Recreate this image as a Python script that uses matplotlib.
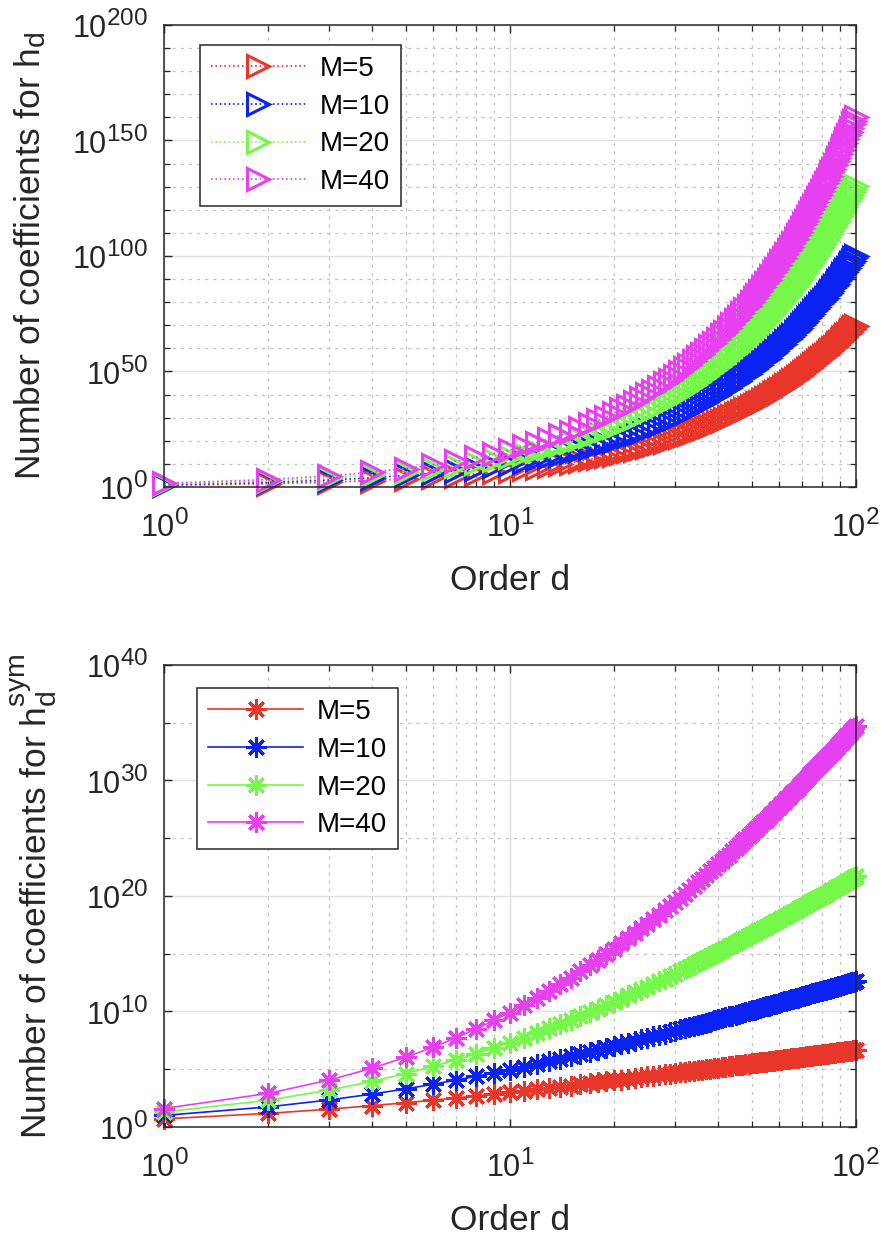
import numpy as np
import matplotlib
matplotlib.use('Agg')
import matplotlib.pyplot as plt
import matplotlib._mathtext as mathtext_internal
from matplotlib.ticker import FixedLocator, FuncFormatter, NullFormatter

plt.rcParams['font.family'] = ['Liberation Sans', 'DejaVu Sans']
plt.rcParams['mathtext.fontset'] = 'custom'
plt.rcParams['mathtext.rm'] = 'Liberation Sans'
plt.rcParams['mathtext.it'] = 'Liberation Sans'
plt.rcParams['mathtext.bf'] = 'Liberation Sans'
# MATLAB draws exponents larger than matplotlib's default 0.7
mathtext_internal.SHRINK_FACTOR = 0.8

# order d (x axis)
orders = list(range(1, 101))
labels = ['M=5', 'M=10', 'M=20', 'M=40']
colors = ['#e8362a', '#0a22f2', '#76f84a', '#e640f0']

# log10 of the number of coefficients for h_d
hd_m5 = [0.7, 1.4, 2.1, 2.8, 3.5, 4.2, 4.9, 5.6, 6.3, 7.0, 7.7, 8.4, 9.1, 9.8, 10.5, 11.2, 11.9, 12.6, 13.3, 14.0,
         14.7, 15.4, 16.1, 16.8, 17.5, 18.2, 18.9, 19.6, 20.3, 21.0, 21.7, 22.4, 23.1, 23.8, 24.5, 25.2, 25.9, 26.6, 27.3, 28.0,
         28.7, 29.4, 30.1, 30.8, 31.5, 32.2, 32.9, 33.6, 34.2, 34.9, 35.6, 36.3, 37.0, 37.7, 38.4, 39.1, 39.8, 40.5, 41.2, 41.9,
         42.6, 43.3, 44.0, 44.7, 45.4, 46.1, 46.8, 47.5, 48.2, 48.9, 49.6, 50.3, 51.0, 51.7, 52.4, 53.1, 53.8, 54.5, 55.2, 55.9,
         56.6, 57.3, 58.0, 58.7, 59.4, 60.1, 60.8, 61.5, 62.2, 62.9, 63.6, 64.3, 65.0, 65.7, 66.4, 67.1, 67.8, 68.5, 69.2, 69.9]
hd_m10 = [1, 2, 3, 4, 5, 6, 7, 8, 9, 10, 11, 12, 13, 14, 15, 16, 17, 18, 19, 20,
          21, 22, 23, 24, 25, 26, 27, 28, 29, 30, 31, 32, 33, 34, 35, 36, 37, 38, 39, 40,
          41, 42, 43, 44, 45, 46, 47, 48, 49, 50, 51, 52, 53, 54, 55, 56, 57, 58, 59, 60,
          61, 62, 63, 64, 65, 66, 67, 68, 69, 70, 71, 72, 73, 74, 75, 76, 77, 78, 79, 80,
          81, 82, 83, 84, 85, 86, 87, 88, 89, 90, 91, 92, 93, 94, 95, 96, 97, 98, 99, 100]
hd_m20 = [1.3, 2.6, 3.9, 5.2, 6.5, 7.8, 9.1, 10.4, 11.7, 13.0, 14.3, 15.6, 16.9, 18.2, 19.5, 20.8, 22.1, 23.4, 24.7, 26.0,
          27.3, 28.6, 29.9, 31.2, 32.5, 33.8, 35.1, 36.4, 37.7, 39.0, 40.3, 41.6, 42.9, 44.2, 45.5, 46.8, 48.1, 49.4, 50.7, 52.0,
          53.3, 54.6, 55.9, 57.2, 58.5, 59.8, 61.1, 62.4, 63.7, 65.1, 66.4, 67.7, 69.0, 70.3, 71.6, 72.9, 74.2, 75.5, 76.8, 78.1,
          79.4, 80.7, 82.0, 83.3, 84.6, 85.9, 87.2, 88.5, 89.8, 91.1, 92.4, 93.7, 95.0, 96.3, 97.6, 98.9, 100.2, 101.5, 102.8, 104.1,
          105.4, 106.7, 108.0, 109.3, 110.6, 111.9, 113.2, 114.5, 115.8, 117.1, 118.4, 119.7, 121.0, 122.3, 123.6, 124.9, 126.2, 127.5, 128.8, 130.1]
hd_m40 = [1.6, 3.2, 4.8, 6.4, 8.0, 9.6, 11.2, 12.8, 14.4, 16.0, 17.6, 19.2, 20.8, 22.4, 24.0, 25.6, 27.2, 28.8, 30.4, 32.0,
          33.6, 35.2, 36.8, 38.4, 40.1, 41.7, 43.3, 44.9, 46.5, 48.1, 49.7, 51.3, 52.9, 54.5, 56.1, 57.7, 59.3, 60.9, 62.5, 64.1,
          65.7, 67.3, 68.9, 70.5, 72.1, 73.7, 75.3, 76.9, 78.5, 80.1, 81.7, 83.3, 84.9, 86.5, 88.1, 89.7, 91.3, 92.9, 94.5, 96.1,
          97.7, 99.3, 100.9, 102.5, 104.1, 105.7, 107.3, 108.9, 110.5, 112.1, 113.7, 115.3, 116.9, 118.6, 120.2, 121.8, 123.4, 125.0, 126.6, 128.2,
          129.8, 131.4, 133.0, 134.6, 136.2, 137.8, 139.4, 141.0, 142.6, 144.2, 145.8, 147.4, 149.0, 150.6, 152.2, 153.8, 155.4, 157.0, 158.6, 160.2]

# log10 of the number of coefficients for h_d^sym
sym_m5 = [0.70, 1.18, 1.54, 1.85, 2.10, 2.32, 2.52, 2.69, 2.85, 3.00, 3.14, 3.26, 3.38, 3.49, 3.59, 3.69, 3.78, 3.86, 3.95, 4.03,
          4.10, 4.17, 4.24, 4.31, 4.38, 4.44, 4.50, 4.56, 4.61, 4.67, 4.72, 4.77, 4.82, 4.87, 4.92, 4.96, 5.01, 5.05, 5.09, 5.13,
          5.17, 5.21, 5.25, 5.29, 5.33, 5.36, 5.40, 5.43, 5.47, 5.50, 5.53, 5.57, 5.60, 5.63, 5.66, 5.69, 5.72, 5.75, 5.78, 5.80,
          5.83, 5.86, 5.88, 5.91, 5.94, 5.96, 5.99, 6.01, 6.04, 6.06, 6.08, 6.11, 6.13, 6.15, 6.18, 6.20, 6.22, 6.24, 6.26, 6.29,
          6.31, 6.33, 6.35, 6.37, 6.39, 6.41, 6.43, 6.45, 6.47, 6.48, 6.50, 6.52, 6.54, 6.56, 6.58, 6.59, 6.61, 6.63, 6.65, 6.66]
sym_m10 = [1.00, 1.74, 2.34, 2.85, 3.30, 3.70, 4.06, 4.39, 4.69, 4.97, 5.23, 5.47, 5.70, 5.91, 6.12, 6.31, 6.49, 6.67, 6.84, 7.00,
           7.16, 7.30, 7.45, 7.59, 7.72, 7.85, 7.97, 8.09, 8.21, 8.33, 8.44, 8.54, 8.65, 8.75, 8.85, 8.95, 9.04, 9.13, 9.22, 9.31,
           9.40, 9.48, 9.57, 9.65, 9.73, 9.80, 9.88, 9.95, 10.03, 10.10, 10.17, 10.24, 10.31, 10.37, 10.44, 10.50, 10.57, 10.63, 10.69, 10.75,
           10.81, 10.87, 10.93, 10.99, 11.04, 11.10, 11.15, 11.21, 11.26, 11.31, 11.37, 11.42, 11.47, 11.52, 11.57, 11.61, 11.66, 11.71, 11.76, 11.80,
           11.85, 11.89, 11.94, 11.98, 12.03, 12.07, 12.11, 12.16, 12.20, 12.24, 12.28, 12.32, 12.36, 12.40, 12.44, 12.48, 12.52, 12.55, 12.59, 12.63]
sym_m20 = [1.30, 2.32, 3.19, 3.95, 4.63, 5.25, 5.82, 6.35, 6.84, 7.30, 7.74, 8.15, 8.54, 8.91, 9.27, 9.61, 9.93, 10.25, 10.55, 10.84,
           11.12, 11.39, 11.65, 11.90, 12.15, 12.39, 12.62, 12.84, 13.06, 13.28, 13.48, 13.69, 13.88, 14.08, 14.26, 14.45, 14.63, 14.80, 14.98, 15.15,
           15.31, 15.47, 15.63, 15.79, 15.94, 16.09, 16.24, 16.38, 16.53, 16.67, 16.80, 16.94, 17.07, 17.20, 17.33, 17.46, 17.58, 17.71, 17.83, 17.95,
           18.06, 18.18, 18.29, 18.41, 18.52, 18.63, 18.74, 18.84, 18.95, 19.05, 19.16, 19.26, 19.36, 19.46, 19.56, 19.65, 19.75, 19.84, 19.94, 20.03,
           20.12, 20.21, 20.30, 20.39, 20.48, 20.56, 20.65, 20.74, 20.82, 20.90, 20.98, 21.07, 21.15, 21.23, 21.31, 21.38, 21.46, 21.54, 21.62, 21.69]
sym_m40 = [1.60, 2.91, 4.06, 5.09, 6.04, 6.91, 7.73, 8.50, 9.22, 9.91, 10.57, 11.20, 11.80, 12.38, 12.94, 13.47, 13.99, 14.49, 14.98, 15.45,
           15.90, 16.35, 16.78, 17.19, 17.60, 18.00, 18.39, 18.77, 19.14, 19.50, 19.85, 20.20, 20.54, 20.87, 21.20, 21.51, 21.83, 22.13, 22.43, 22.73,
           23.02, 23.31, 23.59, 23.86, 24.13, 24.40, 24.66, 24.92, 25.17, 25.43, 25.67, 25.91, 26.15, 26.39, 26.62, 26.85, 27.08, 27.30, 27.52, 27.74,
           27.95, 28.17, 28.38, 28.58, 28.79, 28.99, 29.19, 29.38, 29.58, 29.77, 29.96, 30.15, 30.34, 30.52, 30.70, 30.88, 31.06, 31.24, 31.41, 31.58,
           31.75, 31.92, 32.09, 32.25, 32.42, 32.58, 32.74, 32.90, 33.06, 33.22, 33.37, 33.52, 33.68, 33.83, 33.98, 34.12, 34.27, 34.42, 34.56, 34.70]

TXT = '#262626'


def pow_label(v, pos):
    return r'$\mathregular{10^{%d}}$' % int(round(np.log10(v)))


def style_axes(ax, major_dec, minor_dec, top_dec):
    ax.set_xscale('log')
    ax.set_yscale('log')
    ax.set_xlim(1, 100)
    ax.set_ylim(1, 10.0 ** top_dec)
    ax.xaxis.set_major_locator(FixedLocator([1, 10, 100]))
    ax.xaxis.set_minor_locator(FixedLocator([m * 10.0 ** k for k in (0, 1) for m in range(2, 10)]))
    ax.yaxis.set_major_locator(FixedLocator([10.0 ** k for k in range(0, top_dec + 1, major_dec)]))
    ax.yaxis.set_minor_locator(FixedLocator([10.0 ** k for k in range(0, top_dec + 1, minor_dec)
                                             if k % major_dec]))
    ax.xaxis.set_major_formatter(FuncFormatter(pow_label))
    ax.yaxis.set_major_formatter(FuncFormatter(pow_label))
    ax.xaxis.set_minor_formatter(NullFormatter())
    ax.yaxis.set_minor_formatter(NullFormatter())
    ax.grid(True, which='major', color='#e0e0e0', lw=1.0, ls='-')
    ax.grid(True, which='minor', color='#c4c4c4', lw=0.9, ls=(0, (2.5, 4)))
    ax.set_axisbelow(True)
    ax.tick_params(which='both', direction='in', top=True, right=True, colors=TXT, labelsize=22)
    ax.tick_params(which='major', length=6, width=1.0)
    ax.tick_params(which='minor', length=4, width=0.9)
    ax.tick_params(axis='y', pad=11.5)
    ax.tick_params(axis='x', pad=17)
    for s in ax.spines.values():
        s.set_color(TXT)
        s.set_linewidth(1.1)
    ax.set_xlabel('Order d', fontsize=25.5, color=TXT, labelpad=14)


def add_legend(ax, anchor):
    leg = ax.legend(loc='upper left', bbox_to_anchor=anchor, borderaxespad=0, fontsize=20,
                    handlelength=3.4, handletextpad=0.5, labelspacing=0.42, borderpad=0.4,
                    fancybox=False, framealpha=1, edgecolor=TXT)
    leg.get_frame().set_linewidth(1.1)


fig = plt.figure(figsize=(8.85, 12.36), dpi=100)
ax1 = fig.add_axes([0.1853, 0.6060, 0.7816, 0.3738])
ax2 = fig.add_axes([0.1853, 0.0882, 0.7816, 0.3738])

for vals, lab, c in zip([hd_m5, hd_m10, hd_m20, hd_m40], labels, colors):
    ax1.plot(orders, 10.0 ** np.array(vals), ls=':', lw=1.2, color=c, marker='>', ms=16,
             mfc='none', mec=c, mew=2.2, label=lab, clip_on=False)
style_axes(ax1, 50, 10, 200)
ax1.set_ylabel(r'Number of coefficients for $\mathregular{h_d}$', fontsize=25.5, color=TXT, labelpad=17)
add_legend(ax1, (0.052, 0.957))

for vals, lab, c in zip([sym_m5, sym_m10, sym_m20, sym_m40], labels, colors):
    ax2.plot(orders, 10.0 ** np.array(vals), ls='-', lw=1.2, color=c, marker=(8, 2, 0), ms=14.5,
             mec=c, mew=2.2, label=lab, clip_on=False)
style_axes(ax2, 10, 5, 40)
ax2.set_ylabel(r'Number of coefficients for $\mathregular{h_d^{sym}}$', fontsize=25.5, color=TXT, labelpad=19)
add_legend(ax2, (0.048, 0.950))

fig.savefig('out.png', dpi=100, facecolor='white')
